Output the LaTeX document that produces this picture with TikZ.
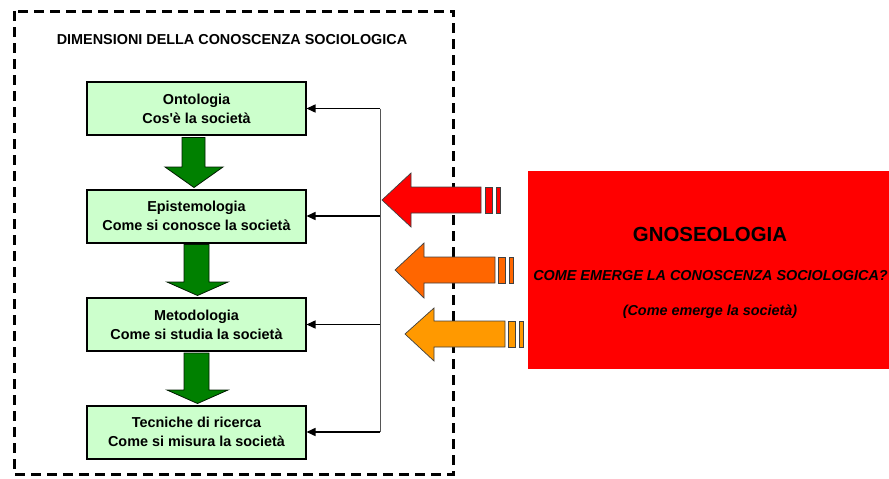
\documentclass[tikz,border=0pt]{standalone}
\usepackage{fontspec}
\setmainfont{Liberation Sans}[Ligatures=TeXOff]
\usetikzlibrary{arrows.meta}

\definecolor{boxgreen}{HTML}{CCFFCC}
\definecolor{flowgreen}{HTML}{008000}
\definecolor{gnored}{HTML}{FF0000}
\definecolor{deeporange}{HTML}{FF6600}
\definecolor{lightorange}{HTML}{FF9900}
\definecolor{trunkgray}{HTML}{555555}

\begin{document}
\begin{tikzpicture}[x=1pt,y=-1pt,
  dimbox/.style={draw=black, line width=2pt, fill=boxgreen,
    minimum width=219pt, minimum height=53pt, inner sep=0pt,
    align=center, font=\fontsize{14.4}{19}\selectfont\bfseries},
  frame/.style={draw=black, line width=3pt, dash pattern=on 10pt off 6pt},
  trunk/.style={draw=trunkgray, line width=1pt},
  link/.style={draw=black, line width=1.5pt,
    -{Triangle[length=9pt,width=8pt]}, shorten >=-0.5pt},
  downarrow/.style={fill=flowgreen, draw=black!80!flowgreen, line width=0.8pt},
  blockarrow/.style={draw=black!75, line width=0.7pt},
  label/.style={font=\fontsize{14.4}{17}\selectfont\bfseries, inner sep=0pt},
  question/.style={font=\fontsize{14.4}{17}\selectfont\bfseries\itshape, inner sep=0pt}
]
\useasboundingbox (0,0) rectangle (889,479);

% dashed frame and heading
\draw[frame] (14.5,11) rectangle (453.5,474.5);
\node[label] (title) at (232,40) {DIMENSIONI DELLA CONOSCENZA SOCIOLOGICA};

% the four dimensions
\node[dimbox] (onto) at (196.5,108.5) {Ontologia\\Cos'è la società};
\node[dimbox] (epi)  at (196.5,216)   {Epistemologia\\Come si conosce la società};
\node[dimbox] (meto) at (196.5,324.5) {Metodologia\\Come si studia la società};
\node[dimbox] (tec)  at (196.5,432)   {Tecniche di ricerca\\Come si misura la società};

% green flow arrows between the boxes
\filldraw[downarrow] (182,137.5) -- (205,137.5) -- (205,167) -- (223,167)
  -- (194,187.5) -- (165,167) -- (182,167) -- cycle;
\filldraw[downarrow] (184,244.5) -- (209,244.5) -- (209,282) -- (228,282)
  -- (197.5,295.5) -- (167,282) -- (184,282) -- cycle;
\filldraw[downarrow] (184,353) -- (209,353) -- (209,390) -- (228,390)
  -- (197.5,403.5) -- (167,390) -- (184,390) -- cycle;

% feedback trunk feeding every dimension
\coordinate (ttop) at (380,108.5);
\coordinate (tbot) at (380,432);
\coordinate (j2) at (ttop |- epi.east);
\coordinate (j3) at (ttop |- meto.east);
\draw[trunk] (ttop) -- (tbot);
\draw[link] (ttop) -- (onto.east);
\draw[link] (j2) -- (epi.east);
\draw[link] (j3) -- (meto.east);
\draw[link] (tbot) -- (tec.east);

% gnoseology panel
\fill[gnored] (528,171) rectangle (889,369);
\node[font=\fontsize{20.4}{24}\selectfont\bfseries, inner sep=0pt] (gno) at (710,234) {GNOSEOLOGIA};
\node[question] (ask) at (710.5,276) {COME EMERGE LA CONOSCENZA SOCIOLOGICA?};
\node[question] (sub) at (710,312) {(Come emerge la società)};

% block arrows pointing into the frame
\filldraw[blockarrow, fill=gnored] (382,200) -- (411,173) -- (411,187) -- (481,187)
  -- (481,213) -- (411,213) -- (411,227) -- cycle;
\filldraw[blockarrow, fill=gnored] (485,187) rectangle (492,213);
\filldraw[blockarrow, fill=gnored] (496,187) rectangle (500,213);

\filldraw[blockarrow, fill=deeporange] (395,270) -- (424,243) -- (424,257) -- (495,257)
  -- (495,283) -- (424,283) -- (424,298) -- cycle;
\filldraw[blockarrow, fill=deeporange] (498,257) rectangle (505,283);
\filldraw[blockarrow, fill=deeporange] (509,257) rectangle (513,283);

\filldraw[blockarrow, fill=lightorange] (405,334) -- (434,308) -- (434,321) -- (505,321)
  -- (505,347) -- (434,347) -- (434,361) -- cycle;
\filldraw[blockarrow, fill=lightorange] (508,321) rectangle (515,347);
\filldraw[blockarrow, fill=lightorange] (519,321) rectangle (523,347);
\end{tikzpicture}
\end{document}
